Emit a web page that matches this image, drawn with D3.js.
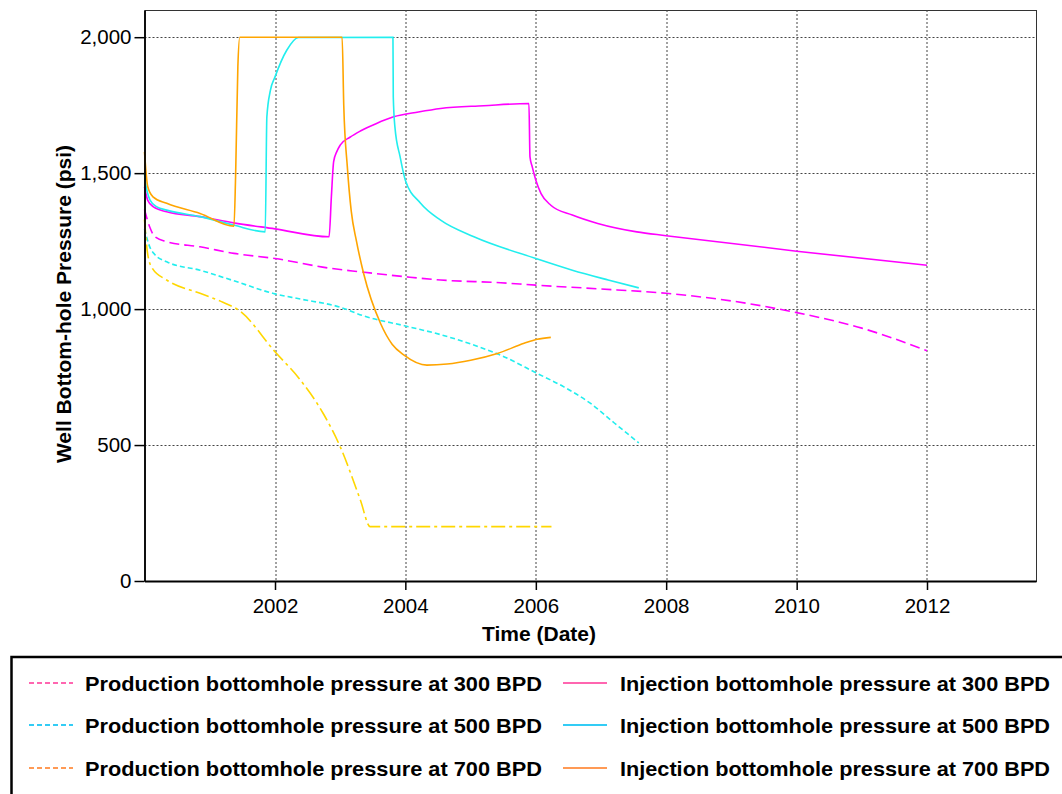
<!DOCTYPE html>
<html>
<head>
<meta charset="utf-8">
<script src="https://cdn.jsdelivr.net/npm/d3@7"></script>
<style>
body { margin: 0; background: #fff; }
text { font-family: Arial, "Liberation Sans", sans-serif; fill: #000; }
</style>
</head>
<body>
<div id="chart"></div>
<script>
// DATA: [decimal year, bottom-hole pressure psi]
var prod300 = [[2000.0, 1366], [2000.08, 1302], [2000.16, 1266], [2000.34, 1248], [2000.85, 1229],
    [2001.37, 1205], [2002.0, 1186], [2002.85, 1150], [2003.31, 1137], [2004.0, 1119], [2004.54, 1107],
    [2005.46, 1097], [2006.0, 1088], [2007.0, 1074], [2008.0, 1058], [2009.0, 1030], [2010.0, 987],
    [2011.0, 930], [2012.0, 847]];

var prod500 = [[2000.0, 1295], [2000.08, 1229], [2000.16, 1200], [2000.34, 1174], [2000.85, 1143],
    [2001.37, 1104], [2002.0, 1056], [2002.39, 1037], [2003.0, 1007], [2003.36, 975], [2004.0, 938],
    [2004.54, 906], [2005.0, 872], [2005.51, 825], [2006.0, 766], [2006.43, 714], [2006.84, 653],
    [2007.2, 582], [2007.58, 508]];

var prod700 = [[2000.0, 1330], [2000.05, 1200], [2000.12, 1150], [2000.34, 1107], [2000.85, 1058],
    [2001.2, 1025], [2001.45, 995], [2002.0, 843], [2002.39, 739], [2002.74, 616], [2003.0, 494],
    [2003.31, 298], [2003.46, 200], [2006.24, 200]];

var inj300 = [[2000.0, 1450], [2000.05, 1400], [2000.137, 1376], [2000.34, 1358], [2000.85, 1340],
    [2001.365, 1317], [2002.0, 1295], [2002.83, 1266], [2002.865, 1413], [2002.9, 1542], [2002.95, 1580],
    [2003.0, 1603], [2003.15, 1632], [2003.31, 1655], [2003.55, 1682], [2003.82, 1707], [2004.2, 1725],
    [2004.54, 1738], [2005.2, 1748], [2005.894, 1756], [2005.91, 1560], [2005.945, 1523], [2006.0, 1474],
    [2006.08, 1425], [2006.23, 1382], [2006.56, 1346], [2006.95, 1315], [2007.55, 1284], [2008.0, 1270],
    [2010.0, 1213], [2012.0, 1161]];

var inj500 = [[2000.0, 1500], [2000.01, 1474], [2000.085, 1401], [2000.19, 1376], [2000.34, 1364],
    [2000.85, 1340], [2001.365, 1309], [2001.85, 1284], [2001.875, 1707], [2001.93, 1805], [2002.0, 1854],
    [2002.18, 1952], [2002.36, 1999], [2003.81, 2000], [2003.815, 1781], [2003.84, 1670], [2003.92, 1560],
    [2004.0, 1474], [2004.23, 1390], [2004.54, 1327], [2005.05, 1266], [2006.0, 1186], [2006.56, 1143],
    [2007.11, 1107], [2007.58, 1078]];

var inj700 = [[2000.0, 1578], [2000.05, 1450], [2000.13, 1413], [2000.34, 1389], [2000.85, 1352],
    [2001.37, 1305], [2001.395, 1486], [2001.43, 1891], [2001.46, 2000], [2003.03, 2000], [2003.055, 1750],
    [2003.11, 1523], [2003.17, 1360], [2003.25, 1250], [2003.36, 1131], [2003.62, 947], [2003.8, 870],
    [2003.98, 831], [2004.33, 794], [2004.64, 798], [2005.0, 812], [2005.41, 837], [2005.82, 874],
    [2006.02, 889], [2006.23, 896]];

var xTickYears = [2002, 2004, 2006, 2008, 2010, 2012];
var yTickValues = [0, 500, 1000, 1500, 2000];
var legendLabels = ["Production bottomhole pressure at 300 BPD", "Injection bottomhole pressure at 300 BPD",
    "Production bottomhole pressure at 500 BPD", "Injection bottomhole pressure at 500 BPD",
    "Production bottomhole pressure at 700 BPD", "Injection bottomhole pressure at 700 BPD"];

// series drawing styles
var series = [
    {data: prod300, color: "#ff00ff", dash: "10,5", legend: 0, legendColor: "#ff66b0"},
    {data: prod500, color: "#22eeee", dash: "5,3", legend: 2, legendColor: "#33ccf5"},
    {data: prod700, color: "#ffd700", dash: "14,4,3,4", legend: 4, legendColor: "#ff9a55"},
    {data: inj300, color: "#ff00ff", dash: null, legend: 1, legendColor: "#ff66b0"},
    {data: inj500, color: "#22eeee", dash: null, legend: 3, legendColor: "#33ccf5"},
    {data: inj700, color: "#ffa500", dash: null, legend: 5, legendColor: "#ff9a55"}
];

function yearToDate(y) {
    var yr = Math.floor(y),
        start = new Date(yr, 0, 1),
        end = new Date(yr + 1, 0, 1);
    return new Date(+start + (y - yr) * (end - start));
}

var margin = {top: 10, right: 26, bottom: 213, left: 144.5},
    width = 1062 - margin.left - margin.right,
    height = 794 - margin.top - margin.bottom;

var svg = d3.select("#chart").append("svg")
    .attr("width", 1062)
    .attr("height", 794);

var g = svg.append("g")
    .attr("transform", "translate(" + margin.left + "," + margin.top + ")");

var x = d3.scaleTime()
    .domain([yearToDate(2000), yearToDate(2013.67)])
    .range([0, width]);

var y = d3.scaleLinear()
    .domain([0, 2100])
    .range([height, 0]);

// frame
g.append("rect")
    .attr("x", 0.5).attr("y", 0.5)
    .attr("width", width).attr("height", height)
    .attr("fill", "none")
    .attr("stroke", "#333")
    .attr("stroke-width", 1);

// grid
g.append("g").selectAll("line")
    .data(xTickYears)
    .enter().append("line")
    .attr("x1", (d) => Math.round(x(yearToDate(d))) + 0.5)
    .attr("x2", (d) => Math.round(x(yearToDate(d))) + 0.5)
    .attr("y1", 0).attr("y2", height)
    .attr("stroke", "#444").attr("stroke-width", 1).attr("stroke-dasharray", "2,2");

g.append("g").selectAll("line")
    .data(yTickValues.filter((d) => d > 0))
    .enter().append("line")
    .attr("y1", (d) => Math.round(y(d)) + 0.5)
    .attr("y2", (d) => Math.round(y(d)) + 0.5)
    .attr("x1", 0).attr("x2", width)
    .attr("stroke", "#444").attr("stroke-width", 1).attr("stroke-dasharray", "2,2");

// series
var line = d3.line()
    .x((d) => x(yearToDate(d[0])))
    .y((d) => y(d[1]))
    .curve(d3.curveMonotoneX);

g.append("g").selectAll("path")
    .data(series)
    .enter().append("path")
    .attr("d", (d) => line(d.data))
    .attr("fill", "none")
    .attr("stroke", (d) => d.color)
    .attr("stroke-width", 1.6)
    .attr("stroke-dasharray", (d) => d.dash);

// axes
var xAxis = g.append("g")
    .attr("transform", "translate(0," + height + ")")
    .call(d3.axisBottom(x)
        .tickValues(xTickYears.map(yearToDate))
        .tickFormat(d3.timeFormat("%Y"))
        .tickSize(9)
        .tickSizeOuter(0)
        .tickPadding(8));

var yAxis = g.append("g")
    .call(d3.axisLeft(y)
        .tickValues(yTickValues)
        .tickFormat(d3.format(","))
        .tickSize(10)
        .tickSizeOuter(0)
        .tickPadding(3));

[xAxis, yAxis].forEach(function (a) {
    a.select(".domain").attr("stroke", "#000").attr("stroke-width", 1.8);
    a.selectAll(".tick line").attr("stroke", "#000").attr("stroke-width", 1.5);
    a.selectAll(".tick text")
        .style("font-family", "Arial, 'Liberation Sans', sans-serif")
        .style("font-size", "20.5px")
        .attr("fill", "#000");
});

// titles
svg.append("text")
    .attr("x", 539).attr("y", 641)
    .attr("text-anchor", "middle")
    .style("font-size", "21px").style("font-weight", "bold")
    .text("Time (Date)");

svg.append("text")
    .attr("transform", "translate(71,304) rotate(-90)")
    .attr("text-anchor", "middle")
    .style("font-size", "21px").style("font-weight", "bold")
    .text("Well Bottom-hole Pressure (psi)");

// legend
svg.append("rect")
    .attr("x", 11.5).attr("y", 657)
    .attr("width", 1100).attr("height", 200)
    .attr("fill", "#fff")
    .attr("stroke", "#000")
    .attr("stroke-width", 2.5);

var rowY = [683, 725, 768],
    colX = [{lx: 29, tx: 85, tl: 457}, {lx: 563, tx: 620, tl: 430}];

var legendItem = svg.append("g").selectAll("g")
    .data(series)
    .enter().append("g")
    .attr("transform", (d) => "translate(0," + rowY[Math.floor(d.legend / 2)] + ")");

legendItem.append("line")
    .attr("x1", (d) => colX[d.legend % 2].lx)
    .attr("x2", (d) => colX[d.legend % 2].lx + 44)
    .attr("y1", 0).attr("y2", 0)
    .attr("stroke", (d) => d.legendColor)
    .attr("stroke-width", 2)
    .attr("stroke-dasharray", (d) => d.dash ? "5,3" : null);

legendItem.append("text")
    .attr("x", (d) => colX[d.legend % 2].tx)
    .attr("y", 0)
    .attr("dy", "0.36em")
    .attr("textLength", (d) => colX[d.legend % 2].tl)
    .attr("lengthAdjust", "spacingAndGlyphs")
    .style("font-size", "21px").style("font-weight", "bold")
    .text((d) => legendLabels[d.legend]);
</script>
</body>
</html>
